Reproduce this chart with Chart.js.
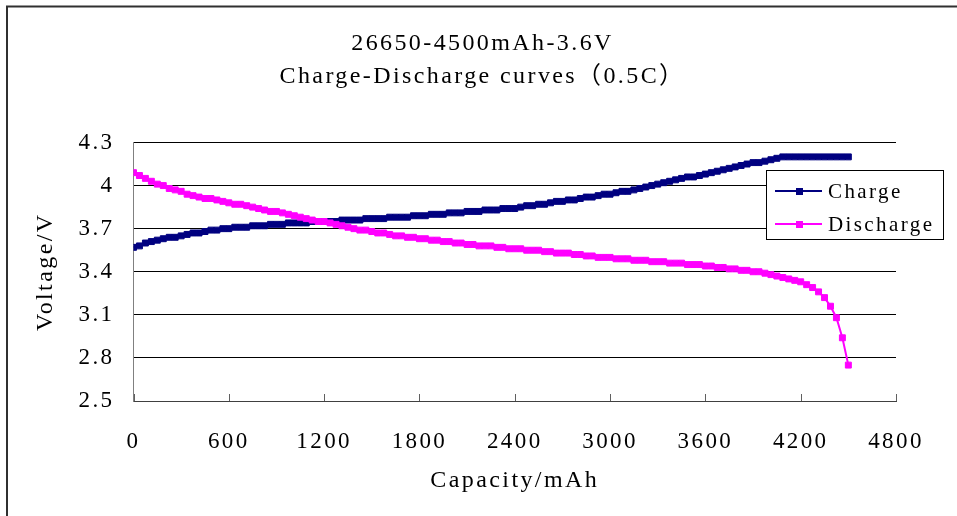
<!DOCTYPE html>
<html>
<head>
<meta charset="utf-8">
<title>26650-4500mAh-3.6V Charge-Discharge curves</title>
<script src="https://cdn.jsdelivr.net/npm/chart.js@4/dist/chart.umd.min.js"></script>
<style>
  html, body { margin: 0; padding: 0; background: #fff; }
  #wrap { width: 957px; height: 516px; }
</style>
</head>
<body>
<div id="wrap"><canvas id="chart" width="957" height="516"></canvas></div>
<script>
const titleLines = ['26650-4500mAh-3.6V', 'Charge-Discharge curves（0.5C）'];
const xTitle = 'Capacity/mAh';
const yTitle = 'Voltage/V';
const seriesNames = ['Charge', 'Discharge'];
const seriesColors = ['#000080', '#ff00ff'];
const xTickLabels = ['0', '600', '1200', '1800', '2400', '3000', '3600', '4200', '4800'];
const yTickLabels = ['2.5', '2.8', '3.1', '3.4', '3.7', '4', '4.3'];

// capacity in mAh, one reading every 37.5 mAh
const capacity = [
  0, 37.5, 75, 112.5, 150, 187.5, 225, 262.5, 300, 337.5,
  375, 412.5, 450, 487.5, 525, 562.5, 600, 637.5, 675, 712.5,
  750, 787.5, 825, 862.5, 900, 937.5, 975, 1012.5, 1050, 1087.5,
  1125, 1162.5, 1200, 1237.5, 1275, 1312.5, 1350, 1387.5, 1425, 1462.5,
  1500, 1537.5, 1575, 1612.5, 1650, 1687.5, 1725, 1762.5, 1800, 1837.5,
  1875, 1912.5, 1950, 1987.5, 2025, 2062.5, 2100, 2137.5, 2175, 2212.5,
  2250, 2287.5, 2325, 2362.5, 2400, 2437.5, 2475, 2512.5, 2550, 2587.5,
  2625, 2662.5, 2700, 2737.5, 2775, 2812.5, 2850, 2887.5, 2925, 2962.5,
  3000, 3037.5, 3075, 3112.5, 3150, 3187.5, 3225, 3262.5, 3300, 3337.5,
  3375, 3412.5, 3450, 3487.5, 3525, 3562.5, 3600, 3637.5, 3675, 3712.5,
  3750, 3787.5, 3825, 3862.5, 3900, 3937.5, 3975, 4012.5, 4050, 4087.5,
  4125, 4162.5, 4200, 4237.5, 4275, 4312.5, 4350, 4387.5, 4425, 4462.5,
  4500
];

const chargeVoltage = [
  3.57, 3.58, 3.60, 3.61, 3.62, 3.63, 3.64, 3.64, 3.65, 3.66,
  3.67, 3.67, 3.68, 3.69, 3.69, 3.70, 3.70, 3.71, 3.71, 3.71,
  3.72, 3.72, 3.72, 3.73, 3.73, 3.73, 3.74, 3.74, 3.74, 3.74,
  3.75, 3.75, 3.75, 3.75, 3.75, 3.76, 3.76, 3.76, 3.76, 3.77,
  3.77, 3.77, 3.77, 3.78, 3.78, 3.78, 3.78, 3.79, 3.79, 3.79,
  3.80, 3.80, 3.80, 3.81, 3.81, 3.81, 3.82, 3.82, 3.82, 3.83,
  3.83, 3.83, 3.84, 3.84, 3.84, 3.85, 3.86, 3.86, 3.87, 3.87,
  3.88, 3.89, 3.89, 3.90, 3.90, 3.91, 3.92, 3.92, 3.93, 3.94,
  3.94, 3.95, 3.96, 3.96, 3.97, 3.98, 3.99, 4.00, 4.01, 4.02,
  4.03, 4.04, 4.05, 4.06, 4.06, 4.07, 4.08, 4.09, 4.10, 4.11,
  4.12, 4.13, 4.14, 4.15, 4.16, 4.16, 4.17, 4.18, 4.19, 4.20,
  4.20, 4.20, 4.20, 4.20, 4.20, 4.20, 4.20, 4.20, 4.20, 4.20,
  4.20
];

const dischargeVoltage = [
  4.09, 4.07, 4.05, 4.03, 4.01, 4.00, 3.98, 3.97, 3.96, 3.94,
  3.93, 3.92, 3.91, 3.91, 3.90, 3.89, 3.88, 3.87, 3.87, 3.86,
  3.85, 3.84, 3.83, 3.82, 3.82, 3.81, 3.80, 3.79, 3.78, 3.77,
  3.76, 3.75, 3.75, 3.74, 3.73, 3.72, 3.71, 3.70, 3.69, 3.69,
  3.68, 3.67, 3.67, 3.66, 3.65, 3.65, 3.64, 3.64, 3.63, 3.63,
  3.62, 3.62, 3.61, 3.61, 3.60, 3.60, 3.59, 3.59, 3.58, 3.58,
  3.58, 3.57, 3.57, 3.56, 3.56, 3.56, 3.55, 3.55, 3.55, 3.54,
  3.54, 3.53, 3.53, 3.53, 3.52, 3.52, 3.51, 3.51, 3.50, 3.50,
  3.50, 3.49, 3.49, 3.49, 3.48, 3.48, 3.48, 3.47, 3.47, 3.47,
  3.46, 3.46, 3.46, 3.45, 3.45, 3.45, 3.44, 3.44, 3.43, 3.43,
  3.42, 3.42, 3.41, 3.41, 3.40, 3.40, 3.39, 3.38, 3.37, 3.36,
  3.35, 3.34, 3.33, 3.31, 3.29, 3.26, 3.22, 3.16, 3.08, 2.94,
  2.75
];

const FONT = '"Liberation Serif", "Noto Sans CJK SC", serif';
const LETTER_SPACING = '2.4px';
Chart.defaults.font.family = FONT;
Chart.defaults.color = '#000';

const toPoints = (xs, ys) => ys.map((v, i) => ({ x: xs[i], y: v }));

// white background, outer frame, and wider letter spacing for the serif text
const framePlugin = {
  id: 'frame',
  beforeLayout(chart) {
    chart.ctx.letterSpacing = LETTER_SPACING;
  },
  beforeDraw(chart) {
    const ctx = chart.ctx;
    ctx.letterSpacing = LETTER_SPACING;
    ctx.save();
    ctx.fillStyle = '#fff';
    ctx.fillRect(0, 0, chart.width, chart.height);
    ctx.strokeStyle = '#303030';
    ctx.lineWidth = 2;
    ctx.strokeRect(7, 6.5, chart.width + 20, chart.height + 20);
    ctx.restore();
  }
};

// x-axis tick marks pointing into the plot
const innerTicksPlugin = {
  id: 'innerTicks',
  afterDraw(chart) {
    const sx = chart.scales.x;
    const ctx = chart.ctx;
    ctx.save();
    ctx.strokeStyle = '#606060';
    ctx.lineWidth = 1;
    sx.ticks.forEach(t => {
      const px = Math.round(sx.getPixelForValue(t.value)) + 0.5;
      ctx.beginPath();
      ctx.moveTo(px, sx.top);
      ctx.lineTo(px, sx.top - 7);
      ctx.stroke();
    });
    ctx.restore();
  }
};

// boxed legend sitting over the right of the plot
const boxLegendPlugin = {
  id: 'boxLegend',
  afterDraw(chart) {
    const ctx = chart.ctx;
    const bx = 766.5, by = 170.5, bw = 177, bh = 69;
    ctx.save();
    ctx.fillStyle = '#fff';
    ctx.fillRect(bx, by, bw, bh);
    ctx.strokeStyle = '#000';
    ctx.lineWidth = 1;
    ctx.strokeRect(bx, by, bw, bh);
    const rows = [191, 224];
    const legendOrder = [0, 1];
    legendOrder.forEach((di, r) => {
      const ds = chart.data.datasets[di];
      const y = rows[r];
      ctx.strokeStyle = ds.borderColor;
      ctx.lineWidth = 2;
      ctx.beginPath();
      ctx.moveTo(775, y);
      ctx.lineTo(822, y);
      ctx.stroke();
      ctx.fillStyle = ds.borderColor;
      ctx.fillRect(796, y - 3, 7, 7);
      ctx.fillStyle = '#000';
      ctx.font = '21px ' + FONT;
      ctx.letterSpacing = LETTER_SPACING;
      ctx.textBaseline = 'middle';
      ctx.textAlign = 'left';
      ctx.fillText(ds.label, 828, y + 1);
    });
    ctx.restore();
  }
};

const lineStyle = (i, order) => ({
  label: seriesNames[i],
  borderColor: seriesColors[i],
  backgroundColor: seriesColors[i],
  pointBackgroundColor: seriesColors[i],
  pointBorderColor: seriesColors[i],
  pointStyle: 'rect',
  pointRadius: 4.2,
  pointBorderWidth: 1,
  borderWidth: 2,
  tension: 0,
  fill: false,
  order: order
});

new Chart(document.getElementById('chart'), {
  type: 'line',
  data: {
    datasets: [
      Object.assign(lineStyle(0, 1), { data: toPoints(capacity, chargeVoltage) }),
      Object.assign(lineStyle(1, 0), { data: toPoints(capacity, dischargeVoltage) })
    ]
  },
  options: {
    responsive: false,
    animation: false,
    devicePixelRatio: 1,
    events: [],
    layout: { padding: { left: 8, right: 0, top: 8, bottom: 0 } },
    plugins: {
      legend: { display: false },
      tooltip: { enabled: false },
      title: {
        display: true,
        text: titleLines,
        color: '#000',
        font: { family: FONT, size: 24, weight: 'normal', lineHeight: 33 / 24 },
        padding: { top: 19.5, bottom: 49 }
      }
    },
    scales: {
      x: {
        type: 'linear',
        min: 0,
        max: 4800,
        afterFit: s => { s.height = 115; },
        grid: { display: false, drawTicks: false },
        border: { display: true, color: '#404040', width: 1 },
        ticks: {
          stepSize: 600,
          padding: 27,
          maxRotation: 0,
          autoSkip: false,
          font: { size: 23 },
          callback: (v, i) => xTickLabels[i] !== undefined ? xTickLabels[i] : String(v)
        },
        title: {
          display: true,
          text: xTitle,
          font: { size: 24 },
          padding: { top: 0, bottom: 21 }
        }
      },
      y: {
        type: 'linear',
        min: 2.5,
        max: 4.3,
        afterFit: s => { s.width = 125.5; },
        grid: { color: '#000', lineWidth: 1, drawTicks: false },
        border: { display: true, color: '#808080', width: 1 },
        ticks: {
          stepSize: 0.3,
          padding: 19,
          font: { size: 23 },
          callback: (v, i) => yTickLabels[i] !== undefined ? yTickLabels[i] : String(v)
        },
        title: {
          display: true,
          text: yTitle,
          font: { size: 24 },
          padding: { top: 23, bottom: 0 }
        }
      },
      yRight: {
        position: 'right',
        display: true,
        afterFit: s => { s.width = 61; },
        grid: { display: false, drawTicks: false },
        border: { display: false },
        ticks: { display: false }
      }
    }
  },
  plugins: [framePlugin, innerTicksPlugin, boxLegendPlugin]
});
</script>
</body>
</html>
